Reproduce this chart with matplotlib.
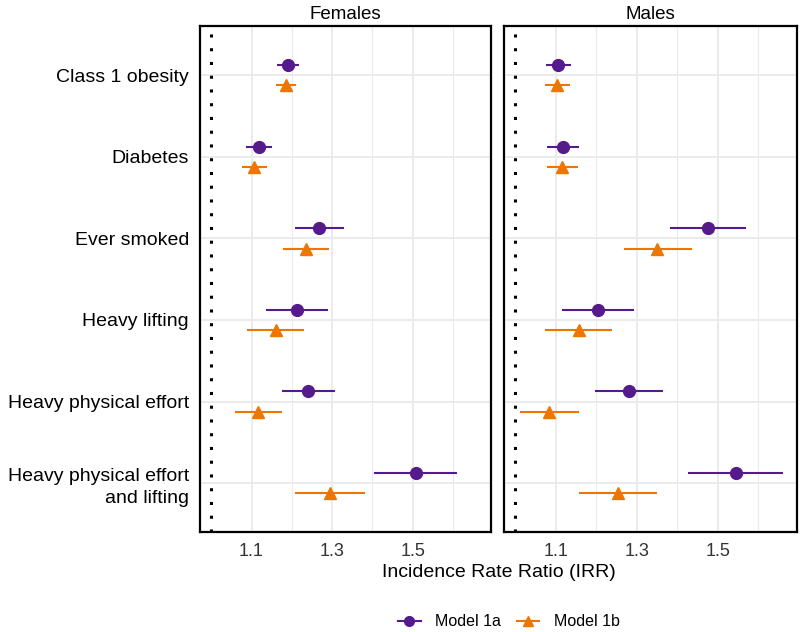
import numpy as np
import matplotlib
matplotlib.use('Agg')
import matplotlib.pyplot as plt
from matplotlib.lines import Line2D

plt.rcParams['font.family'] = ['Liberation Sans', 'DejaVu Sans']

# 数据
categories = ['Class 1 obesity', 'Diabetes', 'Ever smoked', 'Heavy lifting',
              'Heavy physical effort', 'Heavy physical effort\nand lifting']
panels = ['Females', 'Males']
models = ['Model 1a', 'Model 1b']

# 女性
females_1a = [1.19, 1.118, 1.268, 1.213, 1.240, 1.508]
females_1a_lo = [1.164, 1.087, 1.208, 1.137, 1.175, 1.405]
females_1a_hi = [1.217, 1.150, 1.330, 1.290, 1.307, 1.609]
females_1b = [1.185, 1.107, 1.235, 1.160, 1.117, 1.295]
females_1b_lo = [1.160, 1.076, 1.177, 1.089, 1.058, 1.209]
females_1b_hi = [1.211, 1.138, 1.292, 1.230, 1.175, 1.381]

# 男性
males_1a = [1.106, 1.117, 1.476, 1.205, 1.281, 1.545]
males_1a_lo = [1.075, 1.079, 1.383, 1.116, 1.197, 1.427]
males_1a_hi = [1.137, 1.157, 1.569, 1.293, 1.365, 1.662]
males_1b = [1.104, 1.116, 1.351, 1.158, 1.083, 1.253]
males_1b_lo = [1.073, 1.078, 1.269, 1.074, 1.011, 1.158]
males_1b_hi = [1.135, 1.155, 1.436, 1.239, 1.156, 1.349]

data = {
    'Females': [(females_1a, females_1a_lo, females_1a_hi), (females_1b, females_1b_lo, females_1b_hi)],
    'Males': [(males_1a, males_1a_lo, males_1a_hi), (males_1b, males_1b_lo, males_1b_hi)],
}

colors = ['#551A8B', '#EE7600']
markers = ['o', '^']
offsets = [-0.125, 0.125]

fig = plt.figure(figsize=(8, 6.32), dpi=100)
ax_pos = [[0.25, 0.158, 0.364, 0.8006], [0.63, 0.158, 0.366, 0.8006]]

y = np.arange(len(categories))

for i, name in enumerate(panels):
    ax = fig.add_axes(ax_pos[i])
    ax.set_xlim(0.972, 1.695)
    ax.set_ylim(len(categories) - 0.4, -0.6)
    ax.set_xticks([1.1, 1.3, 1.5])
    ax.set_xticks([1.2, 1.4, 1.6], minor=True)
    ax.set_xticklabels(['1.1', '1.3', '1.5'], fontsize=13, color='#333333')
    ax.set_yticks(y)
    if i == 0:
        ax.set_yticklabels(categories, fontsize=14, ha='right', color='black', linespacing=1.4)
    else:
        ax.set_yticklabels([])
    ax.tick_params(axis='x', which='both', length=0, pad=8)
    ax.tick_params(axis='y', which='both', length=0, pad=8)
    ax.grid(True, which='major', color='#ebebeb', lw=1.4)
    ax.grid(True, which='minor', axis='x', color='#ebebeb', lw=0.8)
    ax.set_axisbelow(True)
    for s in ax.spines.values():
        s.set_linewidth(1.6)
        s.set_color('black')

    # 参考线 IRR = 1
    ax.axvline(1.0, color='black', lw=2.2, linestyle=(0, (1, 3.5)), dash_capstyle='butt', zorder=2)

    for m in range(2):
        est, lo, hi = data[name][m]
        yy = y + offsets[m]
        ax.hlines(yy, lo, hi, color=colors[m], lw=1.5, zorder=3)
        ax.plot(est, yy, linestyle='none', marker=markers[m], color=colors[m],
                markersize=8.5, zorder=4)

    ax.set_title(name, fontsize=13.5, pad=5)

fig.text(0.623, 0.094, 'Incidence Rate Ratio (IRR)', ha='center', va='center', fontsize=14)

handles = [Line2D([0], [0], color=colors[m], marker=markers[m], lw=1.5, markersize=7)
           for m in range(2)]
fig.legend(handles, models, loc='center', bbox_to_anchor=(0.636, 0.016), ncol=2,
           frameon=False, fontsize=11.5, handlelength=1.4, columnspacing=1.0,
           handletextpad=0.9, borderpad=0)

fig.savefig('out.png', dpi=100)
